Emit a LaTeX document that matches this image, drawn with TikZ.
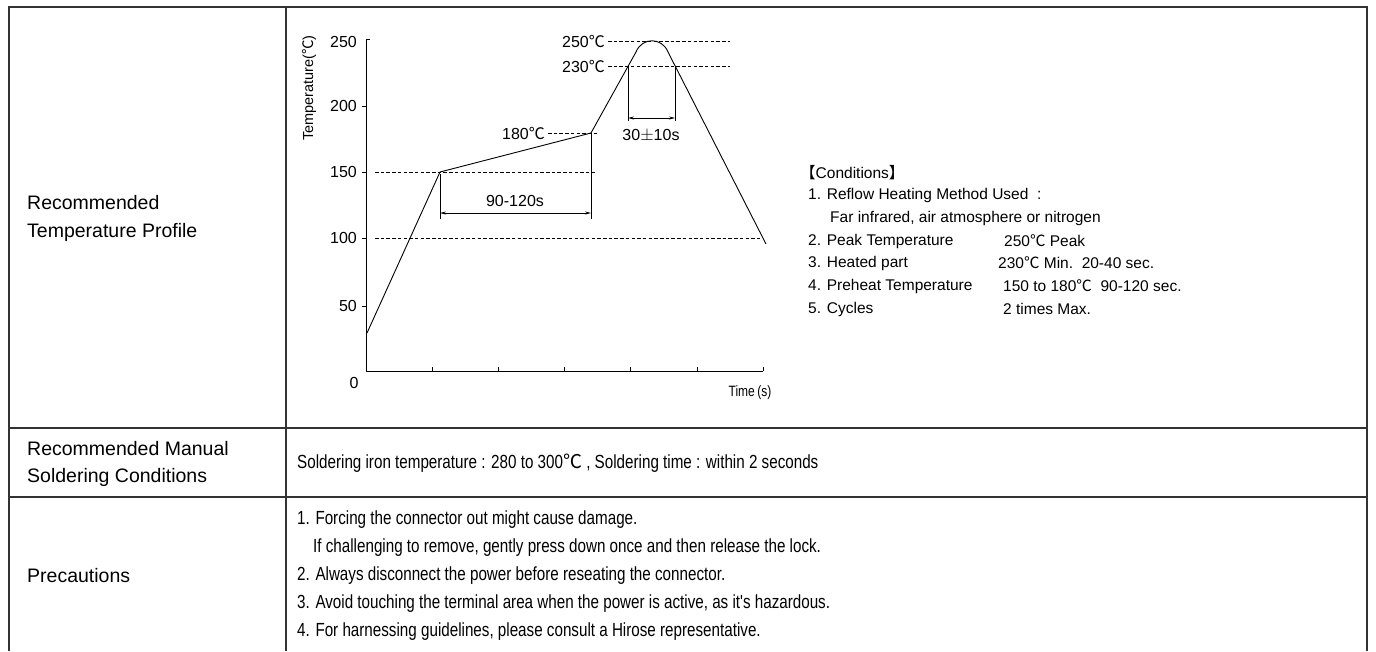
\documentclass[tikz,border=0pt]{standalone}
\usepackage{fontspec}
\setmainfont{Liberation Sans}
\newfontfamily\cjk{Noto Sans CJK KR}
\newfontfamily\tabfont[FakeStretch=0.8]{Liberation Sans}
\usetikzlibrary{arrows.meta}
\newcommand\dgc{{\cjk ℃}}
\begin{document}
\begin{tikzpicture}[x=1pt,y=-1pt,
  gridline/.style={draw=black!80, line width=1.3pt},
  axline/.style={line width=1pt},
  dsh/.style={dash pattern=on 3.5pt off 2.2pt, line width=0.8pt},
  lbl/.style={inner sep=0pt, font=\fontsize{16}{18}\selectfont},
  cond/.style={inner sep=0pt, anchor=west, font=\fontsize{15.5}{18}\selectfont},
  tab/.style={inner sep=0pt, anchor=west, font=\tabfont\fontsize{19}{22}\selectfont},
  head/.style={inner sep=0pt, anchor=west, font=\fontsize{19.5}{22}\selectfont},
  dimarrow/.style={line width=0.8pt, {Stealth[length=6pt,width=3pt]}-{Stealth[length=6pt,width=3pt]}},
  thin/.style={line width=0.9pt},
]
\useasboundingbox (0,0) rectangle (1376,651);
% table
\draw[gridline] (9,651) -- (9,7) -- (1367,7) -- (1367,651);
\draw[gridline] (286,7) -- (286,651);
\draw[gridline] (9,428) -- (1367,428);
\draw[gridline] (9,497) -- (1367,497);
% left labels
\node[head] (l1a) at (27,203) {Recommended};
\node[head] (l1b) at (27,232) {Temperature Profile};
\node[head] (l2a) at (27,449) {Recommended Manual};
\node[head] (l2b) at (27,477) {Soldering Conditions};
\node[head] (l3) at (27,576) {Precautions};
% row 2 and 3 content
\node[tab] (sold) at (297,463) {Soldering iron temperature : 280 to 300\dgc\ , Soldering time : within 2 seconds};
\node[tab] (p1) at (297,520) {1. Forcing the connector out might cause damage.};
\node[tab] (p1b) at (313,548) {If challenging to remove, gently press down once and then release the lock.};
\node[tab] (p2) at (297,576) {2. Always disconnect the power before reseating the connector.};
\node[tab] (p3) at (297,604) {3. Avoid touching the terminal area when the power is active, as it's hazardous.};
\node[tab] (p4) at (297,632) {4. For harnessing guidelines, please consult a Hirose representative.};
% axes
\coordinate (O) at (366,371);
\coordinate (Ytop) at (366,39);
\coordinate (Xend) at (763,371);
\draw[axline] (Ytop) -- (O) -- (Xend);
\draw[axline] (Ytop) -- ++(4,0);
\foreach \y in {106,172,238,306} \draw[axline] (366,\y) -- ++(-4,0);
\foreach \k in {1,...,6} \draw[axline] (366+66.2*\k,371) -- ++(0,-4);
\foreach \y/\t in {42/250,106/200,172/150,238/100,306/50}
  \node[lbl, anchor=east] at (357,\y) {\t};
\node[lbl] (zero) at (354,383) {0};
\node[inner sep=0pt, rotate=90, font=\fontsize{14.5}{16}\selectfont] (ylab) at (309,88) {Temperature(\dgc)};
\node[inner sep=0pt, font=\tabfont\fontsize{15}{16}\selectfont] (xlab) at (750,393) {Time\,(s)};
% dashed reference lines
\node[lbl, anchor=east] (t250) at (605,41) {250\dgc};
\node[lbl, anchor=east] (t230) at (605,66) {230\dgc};
\node[lbl, anchor=east] (t180) at (545,133) {180\dgc};
\draw[dsh] (608,41) -- (730,41);
\draw[dsh] (608,66) -- (730,66);
\draw[dsh] (548,133) -- (598,133);
\draw[dsh] (375,172) -- (595,172);
\draw[dsh] (375,238) -- (762,238);
% profile curve
\coordinate (c0) at (367,333);
\coordinate (c150) at (440,172);
\coordinate (c180) at (591,133);
\coordinate (cL) at (636,52);
\coordinate (cR) at (668,52);
\coordinate (cEnd) at (766,244);
\draw[thin] (c0) -- (c150) -- (c180) -- (cL) .. controls (642,37) and (662,37) .. (cR) -- (cEnd);
% 90-120 s dimension
\coordinate (d1a) at (440,174);
\coordinate (d1b) at (440,219);
\coordinate (d2b) at (591,219);
\draw[thin] (d1a) -- (d1b);
\draw[thin] (c180) -- (d2b);
\draw[dimarrow] (440,213) -- (591,213);
\node[lbl] (l90) at (515,201) {90-120s};
% 30 +- 10 s dimension
\coordinate (e1a) at (628,66);
\coordinate (e2a) at (675,66);
\draw[thin] (e1a) -- (628,121);
\draw[thin] (e2a) -- (675,121);
\draw[dimarrow] (628,118) -- (675,118);
\node[lbl] (l30) at (651,136) {30$\pm$10s};
% conditions
\node[cond] (c0t) at (800,173) {{\cjk 【}Conditions{\cjk 】}};
\node[cond] (c1) at (808,195.5) {1. Reflow Heating Method Used\ \ :};
\node[cond] (c1b) at (830,218) {Far infrared, air atmosphere or nitrogen};
\node[cond] (c2) at (808,241) {2. Peak Temperature};
\node[cond] (c2v) at (1004,241) {250\dgc\ Peak};
\node[cond] (c3) at (808,263) {3. Heated part};
\node[cond] (c3v) at (998,263) {230\dgc\ Min.\ \ 20-40 sec.};
\node[cond] (c4) at (808,286) {4. Preheat Temperature};
\node[cond] (c4v) at (1003,286) {150 to 180\dgc\ \ 90-120 sec.};
\node[cond] (c5) at (808,309) {5. Cycles};
\node[cond] (c5v) at (1003,309) {2 times Max.};
\end{tikzpicture}
\end{document}
